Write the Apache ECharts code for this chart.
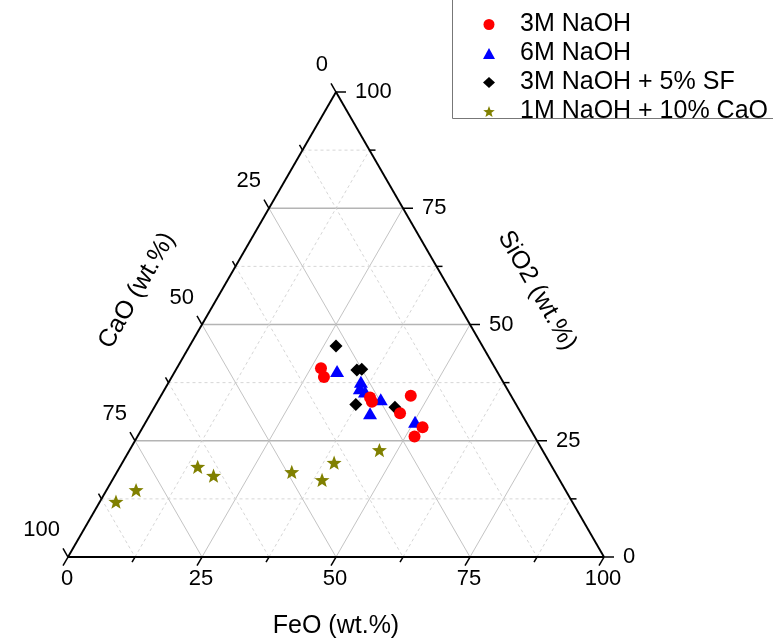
<!DOCTYPE html>
<html>
<head>
<meta charset="utf-8">
<script src="https://cdn.jsdelivr.net/npm/echarts@6/dist/echarts.min.js"></script>
<style>
  html, body { margin: 0; padding: 0; background: #fff; }
  #chart { width: 773px; height: 643px; }
</style>
</head>
<body>
<div id="chart"></div>
<script>
// Compositions as [FeO, SiO2, CaO] in wt.%
const naoh3M = [
  [26.9, 40.6, 32.5], [28.4, 38.7, 32.9], [39.2, 34.3, 26.5], [40.0, 33.4, 26.6],
  [46.6, 34.7, 18.7], [46.5, 30.9, 22.6], [52.2, 27.9, 19.9], [51.7, 25.9, 22.4]
];
const naoh6M = [
  [30.2, 40.0, 29.8], [35.8, 37.7, 26.5], [36.3, 36.3, 27.4], [37.6, 35.6, 26.8],
  [41.4, 33.9, 24.7], [40.9, 30.9, 28.2], [50.2, 29.1, 20.7]
];
const naoh3M_SF = [
  [27.3, 45.4, 27.3], [33.8, 40.2, 26.0], [34.6, 40.4, 25.0], [37.3, 32.8, 29.9],
  [44.9, 32.2, 22.9]
];
const naoh1M_CaO = [
  [3.0, 11.9, 85.1], [5.5, 14.4, 80.1], [14.5, 19.4, 66.1], [18.4, 17.5, 64.1],
  [32.6, 18.3, 49.1], [39.1, 16.6, 44.3], [39.5, 20.3, 40.2], [46.6, 23.0, 30.4]
];

const seriesNames = ['3M NaOH', '6M NaOH', '3M NaOH + 5% SF', '1M NaOH + 10% CaO'];
const majorTicks = [0, 25, 50, 75, 100];
const minorTicks = [12.5, 37.5, 62.5, 87.5];
const axisTitles = ['FeO (wt.%)', 'SiO2 (wt.%)', 'CaO (wt.%)'];

const FONT = '"Liberation Sans", Arial, sans-serif';
const H = Math.sqrt(3) / 2;

// ternary (FeO, SiO2) -> cartesian; CaO is the remainder
function toXY(f, s) { return [f + s / 2, s * H]; }

// point on the edge carrying each axis: 0 FeO (bottom), 1 SiO2 (right), 2 CaO (left)
function edgePoint(axis, v) {
  if (axis === 0) return toXY(v, 0);
  if (axis === 1) return toXY(100 - v, v);
  return toXY(0, 100 - v);
}
function gridEnds(axis, v) {
  if (axis === 0) return [toXY(v, 0), toXY(v, 100 - v)];
  if (axis === 1) return [toXY(0, v), toXY(100 - v, v)];
  return [toXY(0, 100 - v), toXY(100 - v, 0)];
}
// outward tick direction in screen pixels
const tickDir = [[-0.5, H], [1, 0], [-0.5, -H]];

// grid lines
const gridItems = [];
for (let a = 0; a < 3; a++) {
  [25, 50, 75].forEach(v => gridItems.push({ axis: a, v: v, major: true }));
  minorTicks.forEach(v => gridItems.push({ axis: a, v: v, major: false }));
}

// edges, ticks, tick labels, titles
const frameItems = [];
for (let a = 0; a < 3; a++) {
  frameItems.push({ kind: 'edge', axis: a });
  majorTicks.forEach(v => {
    frameItems.push({ kind: 'tick', axis: a, v: v, major: true });
    frameItems.push({ kind: 'label', axis: a, v: v });
  });
  minorTicks.forEach(v => frameItems.push({ kind: 'tick', axis: a, v: v, major: false }));
  frameItems.push({ kind: 'title', axis: a });
}

function renderGrid(params, api) {
  const it = gridItems[params.dataIndex];
  const ends = gridEnds(it.axis, it.v);
  const p = api.coord(ends[0]), q = api.coord(ends[1]);
  return {
    type: 'line',
    shape: { x1: p[0], y1: p[1], x2: q[0], y2: q[1] },
    style: it.major
      ? { stroke: it.axis === 1 ? '#b4b4b4' : '#c4c4c4', lineWidth: it.axis === 1 ? 1.3 : 1 }
      : { stroke: '#d6d6d6', lineWidth: 1, lineDash: [3, 3] }
  };
}

function renderFrame(params, api) {
  const it = frameItems[params.dataIndex];
  if (it.kind === 'edge') {
    const p = api.coord(edgePoint(it.axis, 0)), q = api.coord(edgePoint(it.axis, 100));
    return { type: 'line', shape: { x1: p[0], y1: p[1], x2: q[0], y2: q[1] },
             style: { stroke: '#000', lineWidth: 1.9 } };
  }
  if (it.kind === 'tick') {
    const p = api.coord(edgePoint(it.axis, it.v));
    const len = it.major ? 10 : 6;
    const d = tickDir[it.axis];
    return { type: 'line', shape: { x1: p[0], y1: p[1], x2: p[0] + d[0] * len, y2: p[1] + d[1] * len },
             style: { stroke: '#000', lineWidth: 1.5 } };
  }
  if (it.kind === 'label') {
    const p = api.coord(edgePoint(it.axis, it.v));
    let x, y, align;
    if (it.axis === 0) { x = p[0] - 1; y = p[1] + 22; align = 'center'; }
    else if (it.axis === 1) { x = p[0] + 19; y = p[1]; align = 'left'; }
    else { x = p[0] - 8; y = p[1] - 27; align = 'right'; }
    return { type: 'text', x: x, y: y,
             style: { text: String(it.v), fill: '#000', fontSize: 22, fontFamily: FONT,
                      align: align, verticalAlign: 'middle' } };
  }
  // axis title
  const m = api.coord(edgePoint(it.axis, 50));
  let x, y, rot;
  if (it.axis === 0) { x = m[0]; y = m[1] + 69; rot = 0; }
  else if (it.axis === 1) { x = m[0] + 67; y = m[1] - 34; rot = -Math.PI / 3; }
  else { x = m[0] - 65; y = m[1] - 34; rot = Math.PI / 3; }
  return { type: 'text', x: x, y: y, rotation: rot,
           style: { text: axisTitles[it.axis], fill: '#000', fontSize: 25, fontFamily: FONT,
                    align: 'center', verticalAlign: 'middle' } };
}

// five-pointed star marker
function starPath() {
  let d = '';
  for (let i = 0; i < 10; i++) {
    const r = i % 2 ? 4.2 : 10;
    const ang = -Math.PI / 2 + i * Math.PI / 5;
    d += (i ? 'L' : 'M') + (10 + r * Math.cos(ang)).toFixed(3) + ',' + (10 + r * Math.sin(ang)).toFixed(3);
  }
  return 'path://' + d + 'Z';
}

const pts = arr => arr.map(d => toXY(d[0], d[1]));

const chart = echarts.init(document.getElementById('chart'), null, { renderer: 'canvas' });
chart.setOption({
  animation: false,
  backgroundColor: '#fff',
  grid: { left: 68, top: 92, width: 536, height: 465 },
  xAxis: { type: 'value', min: 0, max: 100, show: false },
  yAxis: { type: 'value', min: 0, max: 100 * H, show: false },
  legend: {
    data: seriesNames,
    orient: 'vertical',
    left: 478,
    top: 7,
    itemWidth: 12,
    itemHeight: 11,
    itemGap: 4,
    textStyle: { fontSize: 25, fontFamily: FONT, color: '#000', padding: [0, 0, 0, 20] }
  },
  graphic: [{
    type: 'rect',
    shape: { x: 452.5, y: -5, width: 340, height: 123.5 },
    style: { fill: 'none', stroke: '#777', lineWidth: 1 },
    silent: true
  }],
  series: [
    { type: 'custom', name: 'grid', renderItem: renderGrid, data: gridItems.map(() => [50, 40]),
      silent: true, z: 1 },
    { type: 'custom', name: 'frame', renderItem: renderFrame, data: frameItems.map(() => [50, 40]),
      silent: true, z: 2 },
    { type: 'scatter', name: seriesNames[2], data: pts(naoh3M_SF), symbol: 'diamond',
      symbolSize: 13, itemStyle: { color: '#000', opacity: 1 }, z: 3 },
    { type: 'scatter', name: seriesNames[1], data: pts(naoh6M), symbol: 'triangle',
      symbolSize: [14, 12], itemStyle: { color: '#0000ff', opacity: 1 }, z: 4 },
    { type: 'scatter', name: seriesNames[0], data: pts(naoh3M), symbol: 'circle',
      symbolSize: 12, itemStyle: { color: '#ff0000', opacity: 1 }, z: 5 },
    { type: 'scatter', name: seriesNames[3], data: pts(naoh1M_CaO), symbol: starPath(),
      symbolSize: 15, symbolKeepAspect: true, itemStyle: { color: '#808000', opacity: 1 }, z: 6 }
  ]
});
</script>
</body>
</html>
